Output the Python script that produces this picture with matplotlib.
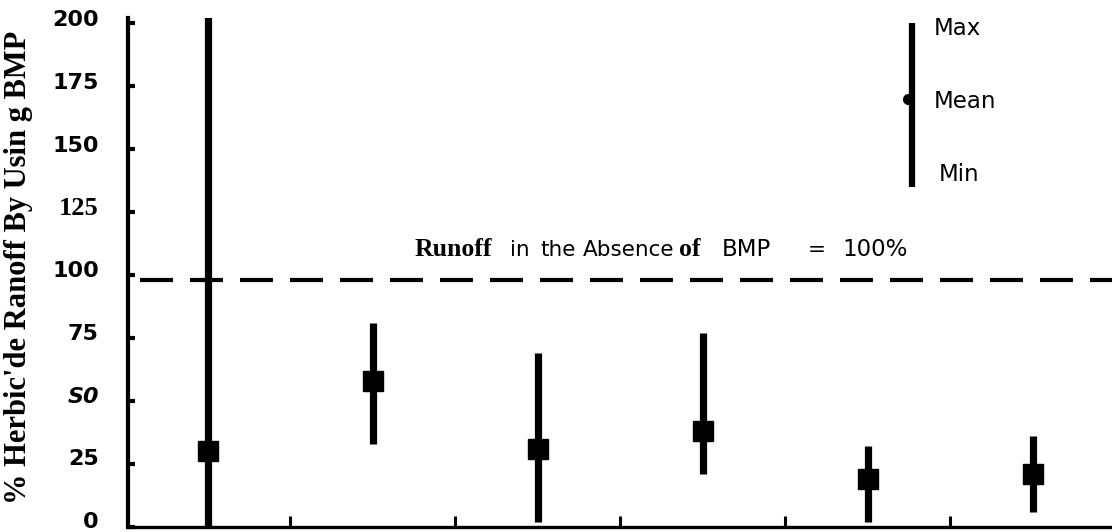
import matplotlib
matplotlib.use("Agg")
import matplotlib.pyplot as plt
from matplotlib.transforms import ScaledTranslation

# ---- data ----
positions = [0, 1, 2, 3, 4, 5]
means = [30, 58, 31, 38, 19, 21]
mins = [0, 33, 2, 21, 2, 6]
maxs = [210, 81, 69, 77, 32, 36]
ytick_values = [0, 25, 50, 75, 100, 125, 150, 175, 200]
ytick_labels = ["0", "25", "S0", "75", "100", "125", "150", "175", "200"]
boundary_ticks = [0.5, 1.5, 2.5, 3.5, 4.5]
reference_level = 98
legend_x = 4.27
legend_vals = {"Max": 200, "Mean": 170, "Min": 135}
note_words = ["Runoff", "in", "the", "Absence", "of", "BMP", "=", "100%"]

W, H = 1112, 532
fig = plt.figure(figsize=(W / 100, H / 100), dpi=100)
ax = fig.add_axes([128 / W, (H - 527) / H, (W - 128) / W, (527 - 18) / H])

ax.set_xlim(-0.485, 5.48)
ax.set_ylim(0, 202)

# reference line
ax.axhline(reference_level, xmin=0.012, xmax=1.0, color="black", lw=3,
           dashes=(7.9, 4.1))

# range bars and mean markers
ax.vlines(positions, mins, maxs, color="black", lw=5.2, clip_on=True)
ax.plot(positions, means, "s", color="black", ms=15, ls="none")

# legend glyph
ax.vlines([legend_x], [legend_vals["Min"]], [legend_vals["Max"]], color="black", lw=4.5)
ax.plot([legend_x - 0.025], [legend_vals["Mean"]], "o", color="black", ms=7)
ax.text(legend_x + 0.13, legend_vals["Max"] - 2, "Max", fontsize=16.5, va="center",
        ha="left", family="DejaVu Sans")
ax.text(legend_x + 0.13, legend_vals["Mean"] - 1, "Mean", fontsize=16.5, va="center",
        ha="left", family="DejaVu Sans")
ax.text(legend_x + 0.16, legend_vals["Min"] + 5, "Min", fontsize=16.5, va="center",
        ha="left", family="DejaVu Sans")

# annotation: words laid out with the wide spacing of the original
word_px = [415, 510, 540, 583, 679, 722, 808, 842]
serif_words = {"Runoff", "of"}
for word, px in zip(note_words, word_px):
    if word in serif_words:
        kw = dict(family="Liberation Serif", weight="bold", fontsize=18.5)
    elif word in ("BMP", "100%"):
        kw = dict(family="DejaVu Sans", weight="normal", fontsize=16.5)
    else:
        kw = dict(family="DejaVu Sans", weight="normal", fontsize=15.5)
    ax.text((px - 128) / 984, (527 - 256) / 509, word, transform=ax.transAxes,
            ha="left", va="baseline", **kw)

# axes styling
for s in ("top", "right"):
    ax.spines[s].set_visible(False)
ax.spines["left"].set_linewidth(3)
ax.spines["bottom"].set_linewidth(2.4)

ax.set_yticks(ytick_values)
ax.set_yticklabels(ytick_labels)
ax.tick_params(axis="y", direction="in", length=5, width=3, pad=21)
for val, lab in zip(ytick_values, ax.get_yticklabels()):
    lab.set_fontfamily("DejaVu Sans")
    lab.set_fontweight("bold")
    lab.set_fontsize(16)
    if lab.get_text() == "125":
        lab.set_fontfamily("Liberation Serif")
        lab.set_fontsize(19)
    if lab.get_text() == "S0":
        lab.set_fontstyle("italic")
    dy_px = 7 - 0.01 * val
    lab.set_transform(lab.get_transform() +
                      ScaledTranslation(0, dy_px / 100, fig.dpi_scale_trans))

ax.set_xticks(boundary_ticks)
ax.set_xticklabels([])
ax.tick_params(axis="x", direction="in", length=8, width=2.2)

ax.set_ylabel("% Herbic'de Ranoff By Usin g BMP", fontsize=22,
              family="Liberation Serif", weight="bold")
ax.yaxis.set_label_coords(-0.097, 0.51)

fig.savefig("out.png", dpi=100)
